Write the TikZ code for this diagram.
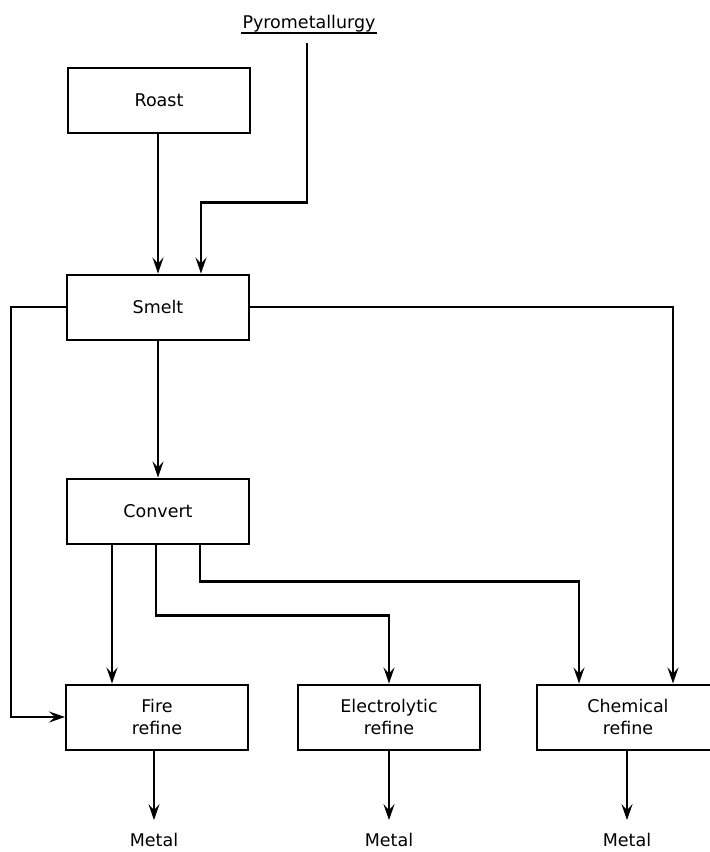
\documentclass[tikz,border=0pt]{standalone}
\usepackage{fontspec}
\setmainfont{DejaVu Sans}
\usetikzlibrary{arrows.meta}
\begin{document}
\begin{tikzpicture}[x=1pt,y=-1pt,
  line width=2.2pt,
  every node/.style={font=\fontsize{17.5}{22}\selectfont},
  procbox/.style={draw, rectangle, minimum width=182pt, minimum height=65pt, inner sep=0pt, align=center, line width=2pt},
  outlabel/.style={inner sep=12pt},
  arr/.style={-{Stealth[length=16pt,width=11pt,inset=6pt]}},
  lnk/.style={line width=2.2pt}
]
\useasboundingbox (0,0) rectangle (710,852);
\fill[white] (0,0) rectangle (710,852);

% title
\node[anchor=base, inner sep=0pt] (pyro) at (309,28) {Pyrometallurgy};
\draw[line width=1.5pt] ([yshift=-5pt]pyro.base west) -- ([yshift=-5pt]pyro.base east);
\coordinate (pyrotop) at (307,43);

% boxes
\node[procbox] (roast) at (159,100) {Roast};
\node[procbox] (smelt) at (158,307) {Smelt};
\node[procbox] (convert) at (158,511) {Convert};
\node[procbox] (fire) at (157,717) {Fire\\refine};
\node[procbox] (elec) at (389,717) {Electrolytic\\refine};
\node[procbox] (chem) at (628,717) {Chemical\\refine};

% outputs
\node[outlabel] (m1) at (154,840) {Metal};
\node[outlabel] (m2) at (389,840) {Metal};
\node[outlabel] (m3) at (627,840) {Metal};

% connectors
\draw[lnk,arr] ([xshift=-1pt]roast.south) -- ([xshift=-1pt]roast.south |- smelt.north);
\draw[lnk,arr] (pyrotop) |- ([xshift=43pt,yshift=71pt]smelt.north) -- ([xshift=43pt]smelt.north);
\draw[lnk,arr] (smelt.west) -- ++(-55,0) |- (fire.west);
\draw[lnk,arr] (smelt.east) -| ([xshift=45pt]chem.north);
\draw[lnk,arr] (smelt.south) -- (convert.north);
\draw[lnk,arr] ([xshift=-46pt]convert.south) -- ([xshift=-45pt]fire.north);
\draw[lnk,arr] ([xshift=-2pt]convert.south) |- ([yshift=68pt]elec.north) -- (elec.north);
\draw[lnk,arr] ([xshift=42pt]convert.south) |- ([xshift=-49pt,yshift=102pt]chem.north) -- ([xshift=-49pt]chem.north);
\draw[lnk,arr] (fire.south -| m1) -- (m1.north);
\draw[lnk,arr] (elec.south -| m2) -- (m2.north);
\draw[lnk,arr] (chem.south -| m3) -- (m3.north);
\end{tikzpicture}
\end{document}
